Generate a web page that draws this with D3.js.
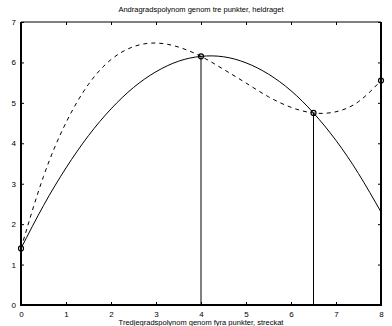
<!DOCTYPE html>
<html>
  <head>
    <meta charset="UTF-8" />
    <script src="https://d3js.org/d3.v7.min.js"></script>
    <style>
      body { margin: 0; background: #fff; }
      svg text { font-family: "Liberation Sans", Arial, sans-serif; fill: #000; }
    </style>
  </head>
  <body>
    <script>
    // x positions of the sampled curves
    var xs = [0, 0.5, 1, 1.5, 2, 2.5, 3, 3.5, 4, 4.5, 5, 5.5, 6, 6.5, 7, 7.5, 8];
    // solid curve (andragradspolynom)
    var solid = [1.40, 2.46, 3.39, 4.19, 4.85, 5.38, 5.77, 6.03, 6.15, 6.14, 5.99, 5.71, 5.30, 4.75, 4.07, 3.25, 2.30];
    // dashed curve (tredjegradspolynom)
    var dashed = [1.40, 3.18, 4.51, 5.46, 6.07, 6.39, 6.48, 6.38, 6.15, 5.83, 5.49, 5.15, 4.89, 4.75, 4.78, 5.03, 5.55];
    // the marked points
    var ptX = [0, 4, 6.5, 8];
    var ptY = [1.40, 6.15, 4.75, 5.55];
    // stems drawn down to the axis
    var stemX = [4, 6.5];
    var stemY = [6.15, 4.75];
    var xTicks = [0, 1, 2, 3, 4, 5, 6, 7, 8];
    var yTicks = [0, 1, 2, 3, 4, 5, 6, 7];

    var W = 392, H = 326;
    var m = {left: 21, right: 11, top: 22, bottom: 21};
    var svg = d3.select("body").append("svg").attr("width", W).attr("height", H);

    var x = d3.scaleLinear().domain([0, 8]).range([m.left, W - m.right]);
    var y = d3.scaleLinear().domain([0, 7]).range([H - m.bottom, m.top]);

    // inner ticks on all sides
    var tl = 3;
    svg.append("g").attr("transform", "translate(0," + y(0) + ")")
      .call(d3.axisBottom(x).tickValues(xTicks).tickSizeInner(-tl).tickSizeOuter(0).tickPadding(6).tickFormat(d3.format("d")))
      .call(function(g) { g.select(".domain").remove(); });
    svg.append("g").attr("transform", "translate(" + x(0) + ",0)")
      .call(d3.axisLeft(y).tickValues(yTicks).tickSizeInner(-tl).tickSizeOuter(0).tickPadding(5).tickFormat(d3.format("d")))
      .call(function(g) { g.select(".domain").remove(); });
    svg.append("g").attr("transform", "translate(0," + y(7) + ")")
      .call(d3.axisTop(x).tickValues(xTicks).tickSizeInner(-tl).tickSizeOuter(0).tickFormat(""))
      .call(function(g) { g.select(".domain").remove(); });
    svg.append("g").attr("transform", "translate(" + x(8) + ",0)")
      .call(d3.axisRight(y).tickValues(yTicks).tickSizeInner(-tl).tickSizeOuter(0).tickFormat(""))
      .call(function(g) { g.select(".domain").remove(); });
    svg.selectAll(".tick text").attr("font-size", 8).style("font-family", "Liberation Sans, Arial, sans-serif");

    // frame
    svg.append("line").attr("x1", x(0)).attr("x2", x(8)).attr("y1", y(7)).attr("y2", y(7)).attr("stroke", "#000").attr("stroke-width", 1);
    svg.append("line").attr("x1", x(0)).attr("x2", x(8)).attr("y1", y(0)).attr("y2", y(0)).attr("stroke", "#000").attr("stroke-width", 2);
    svg.append("line").attr("x1", x(0)).attr("x2", x(0)).attr("y1", y(0) + 1).attr("y2", y(7)).attr("stroke", "#000").attr("stroke-width", 2);
    svg.append("line").attr("x1", x(8)).attr("x2", x(8)).attr("y1", y(0) + 1).attr("y2", y(7)).attr("stroke", "#000").attr("stroke-width", 2);

    var line = d3.line().x(function(d) { return x(d[0]); }).y(function(d) { return y(d[1]); }).curve(d3.curveNatural);

    svg.append("path").datum(d3.zip(xs, solid)).attr("d", line)
      .attr("fill", "none").attr("stroke", "#000").attr("stroke-width", 1);
    svg.append("path").datum(d3.zip(xs, dashed)).attr("d", line)
      .attr("fill", "none").attr("stroke", "#000").attr("stroke-width", 1).attr("stroke-dasharray", "4,4");

    svg.selectAll(".stem").data(d3.zip(stemX, stemY)).enter().append("line")
      .attr("x1", function(d) { return x(d[0]); }).attr("x2", function(d) { return x(d[0]); })
      .attr("y1", y(0)).attr("y2", function(d) { return y(d[1]); })
      .attr("stroke", "#000").attr("stroke-width", 1);

    svg.selectAll(".pt").data(d3.zip(ptX, ptY)).enter().append("circle")
      .attr("cx", function(d) { return x(d[0]); }).attr("cy", function(d) { return y(d[1]); })
      .attr("r", 2.5).attr("fill", "none").attr("stroke", "#000").attr("stroke-width", 1.2);

    svg.append("text").attr("x", (x(0) + x(8)) / 2).attr("y", 12).attr("text-anchor", "middle")
      .attr("font-size", 7.5).text("Andragradspolynom genom tre punkter, heldraget");
    svg.append("text").attr("x", (x(0) + x(8)) / 2).attr("y", 325).attr("text-anchor", "middle")
      .attr("font-size", 7.5).text("Tredjegradspolynom genom fyra punkter, streckat");
    </script>
  </body>
</html>
